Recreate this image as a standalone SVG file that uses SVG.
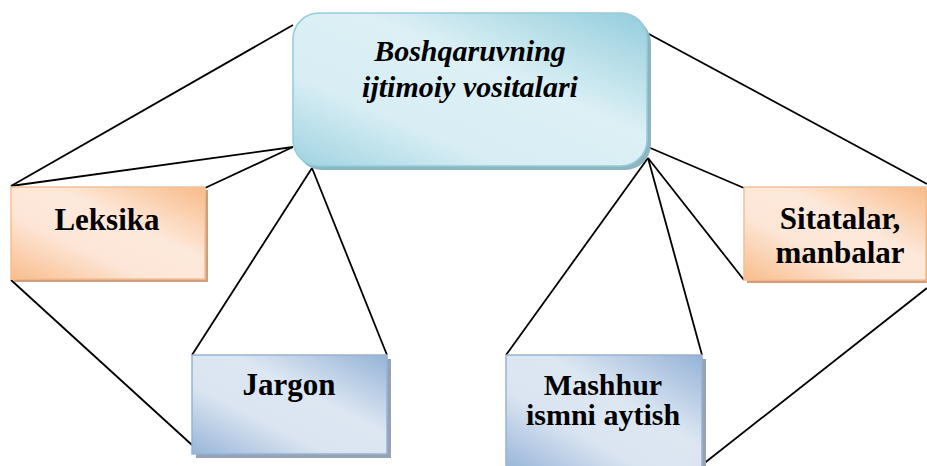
<svg xmlns="http://www.w3.org/2000/svg" width="927" height="466" viewBox="0 0 927 466">
  <defs>
    <linearGradient id="gTop" x1="0" y1="1" x2="1" y2="0">
      <stop offset="0" stop-color="#9fd3e1"/>
      <stop offset="0.3" stop-color="#d8eef4"/>
      <stop offset="0.6" stop-color="#dcf0f5"/>
      <stop offset="1" stop-color="#93cddc"/>
    </linearGradient>
    <linearGradient id="gOrange" x1="0" y1="1" x2="1" y2="0">
      <stop offset="0" stop-color="#f9bd8c"/>
      <stop offset="0.35" stop-color="#fde6d6"/>
      <stop offset="0.6" stop-color="#fde9db"/>
      <stop offset="1" stop-color="#f8bb89"/>
    </linearGradient>
    <linearGradient id="gBlue" x1="0" y1="1" x2="1" y2="0">
      <stop offset="0" stop-color="#97b5d9"/>
      <stop offset="0.35" stop-color="#dbe5f1"/>
      <stop offset="0.6" stop-color="#dde7f2"/>
      <stop offset="1" stop-color="#95b3d7"/>
    </linearGradient>
  </defs>
  <style>
    .conn { stroke: #000; stroke-width: 1.8; fill: none; }
    .top { fill: url(#gTop); stroke: #92cddc; stroke-width: 1.5; }
    .topShadow { fill: #8fb4c0; }
    .org { fill: url(#gOrange); stroke: #f9bf8f; stroke-width: 1.5; }
    .orgShadow { fill: #c9a083; }
    .blu { fill: url(#gBlue); stroke: #95b3d7; stroke-width: 1.5; }
    .bluShadow { fill: #98a2b0; }
    .ti { font-style: italic; }
  </style>

  <g id="connectors">
    <line class="conn" x1="11" y1="186" x2="293" y2="25"/>
    <line class="conn" x1="11" y1="186" x2="293" y2="147"/>
    <line class="conn" x1="205" y1="188" x2="293" y2="147"/>
    <line class="conn" x1="11" y1="280" x2="192" y2="445"/>
    <line class="conn" x1="312" y1="168" x2="192" y2="355"/>
    <line class="conn" x1="312" y1="168" x2="387" y2="355"/>
    <line class="conn" x1="647" y1="33" x2="927" y2="184"/>
    <line class="conn" x1="648" y1="147" x2="744" y2="188"/>
    <line class="conn" x1="648" y1="158" x2="744" y2="280"/>
    <line class="conn" x1="648" y1="158" x2="702" y2="355"/>
    <line class="conn" x1="648" y1="158" x2="506" y2="355"/>
    <line class="conn" x1="702" y1="465" x2="927" y2="288"/>
  </g>

  <g font-family="Liberation Serif, Tinos, DejaVu Serif, Noto Serif, FreeSerif, serif" font-weight="bold" fill="#000" text-anchor="middle">
  <g id="node-top">
    <rect class="topShadow" x="296" y="17" width="355" height="153" rx="26"/>
    <rect class="top" x="293" y="13" width="354" height="153" rx="26"/>
    <text class="ti" x="470" y="61" font-size="30">Boshqaruvning</text>
    <text class="ti" x="470" y="97" font-size="30">ijtimoiy vositalari</text>
  </g>

  <g id="node-leksika">
    <rect class="orgShadow" x="14" y="190" width="194" height="92"/>
    <rect class="org" x="11" y="187" width="194" height="92"/>
    <text x="107" y="230" font-size="31">Leksika</text>
  </g>

  <g id="node-sitatalar">
    <rect class="orgShadow" x="747" y="190" width="182" height="93"/>
    <rect class="org" x="744" y="187" width="182" height="93"/>
    <text x="840" y="229" font-size="31">Sitatalar,</text>
    <text x="840" y="263" font-size="31">manbalar</text>
  </g>

  <g id="node-jargon">
    <rect class="bluShadow" x="196" y="359" width="195" height="99"/>
    <rect class="blu" x="192" y="355" width="195" height="99"/>
    <text x="289" y="395" font-size="31">Jargon</text>
  </g>

  <g id="node-mashhur">
    <rect class="bluShadow" x="510" y="359" width="196" height="115"/>
    <rect class="blu" x="506" y="355" width="196" height="115"/>
    <text x="603" y="395" font-size="30">Mashhur</text>
    <text x="603" y="425" font-size="30">ismni aytish</text>
  </g>
  </g>
</svg>
